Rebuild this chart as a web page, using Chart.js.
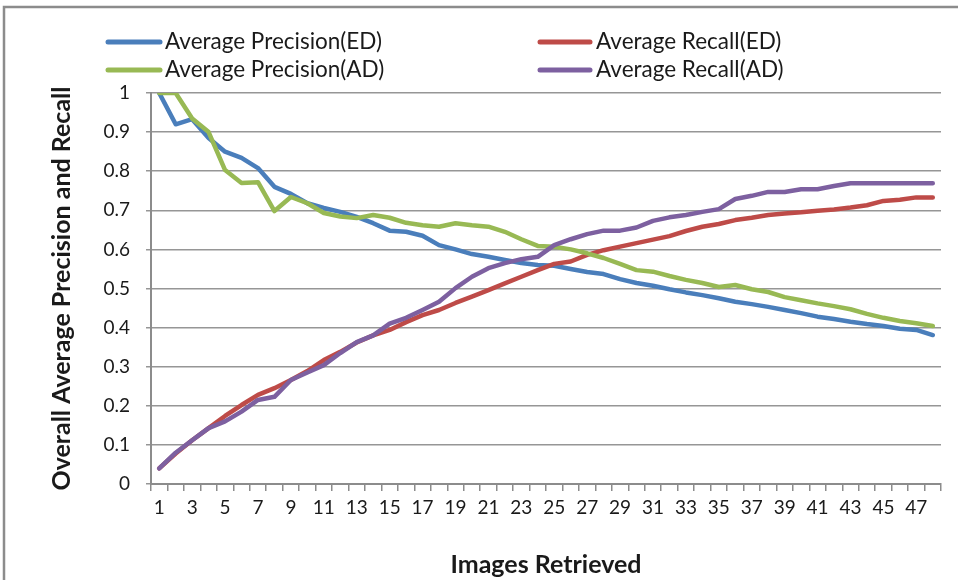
<!DOCTYPE html>
<html>
<head>
<meta charset="utf-8">
<script src="https://cdn.jsdelivr.net/npm/chart.js@4/dist/chart.umd.min.js"></script>
<style>
  html, body { margin: 0; padding: 0; background: #ffffff; }
  #wrap { width: 958px; height: 580px; position: relative; }
</style>
</head>
<body>
<div id="wrap"><canvas id="chart" width="958" height="580"></canvas></div>
<script>
// Images retrieved (x categories)
const categories = [1, 2, 3, 4, 5, 6, 7, 8, 9, 10, 11, 12, 13, 14, 15, 16, 17, 18, 19, 20, 21, 22, 23, 24,
  25, 26, 27, 28, 29, 30, 31, 32, 33, 34, 35, 36, 37, 38, 39, 40, 41, 42, 43, 44, 45, 46, 47, 48];

// Category labels printed under the axis
const xTickLabels = ['1', '3', '5', '7', '9', '11', '13', '15', '17', '19', '21', '23', '25', '27', '29',
  '31', '33', '35', '37', '39', '41', '43', '45', '47'];

const precisionED = [1.0, 0.92, 0.933, 0.885, 0.85, 0.834, 0.808, 0.76, 0.742, 0.718, 0.706, 0.696,
  0.683, 0.667, 0.648, 0.645, 0.635, 0.611, 0.600, 0.588, 0.581, 0.573, 0.565, 0.560,
  0.558, 0.550, 0.542, 0.537, 0.524, 0.514, 0.507, 0.498, 0.490, 0.483, 0.475, 0.466,
  0.460, 0.453, 0.445, 0.437, 0.428, 0.422, 0.415, 0.409, 0.404, 0.397, 0.394, 0.381];

const recallED = [0.04, 0.078, 0.112, 0.143, 0.174, 0.202, 0.228, 0.245, 0.266, 0.289, 0.317, 0.338,
  0.362, 0.380, 0.394, 0.414, 0.432, 0.445, 0.463, 0.479, 0.496, 0.513, 0.530, 0.547,
  0.563, 0.569, 0.586, 0.598, 0.607, 0.616, 0.625, 0.634, 0.647, 0.658, 0.665, 0.675,
  0.681, 0.688, 0.692, 0.695, 0.699, 0.702, 0.707, 0.713, 0.724, 0.727, 0.733, 0.733];

const precisionAD = [1.0, 1.0, 0.935, 0.900, 0.803, 0.770, 0.772, 0.698, 0.734, 0.718, 0.693, 0.684,
  0.680, 0.688, 0.681, 0.668, 0.662, 0.658, 0.667, 0.662, 0.658, 0.645, 0.626, 0.609,
  0.607, 0.600, 0.590, 0.578, 0.563, 0.547, 0.543, 0.532, 0.522, 0.514, 0.504, 0.509,
  0.498, 0.491, 0.478, 0.470, 0.462, 0.455, 0.447, 0.435, 0.425, 0.417, 0.411, 0.404];

const recallAD = [0.04, 0.080, 0.112, 0.143, 0.160, 0.185, 0.215, 0.223, 0.266, 0.285, 0.304, 0.335,
  0.363, 0.380, 0.410, 0.425, 0.445, 0.466, 0.501, 0.530, 0.552, 0.565, 0.575, 0.581,
  0.611, 0.626, 0.639, 0.648, 0.648, 0.656, 0.673, 0.682, 0.688, 0.696, 0.703, 0.729,
  0.737, 0.747, 0.747, 0.754, 0.754, 0.762, 0.769, 0.769, 0.769, 0.769, 0.769, 0.769];

const seriesNames = ['Average Precision(ED)', 'Average Recall(ED)', 'Average Precision(AD)', 'Average Recall(AD)'];
const seriesColors = ['#4A7EBB', '#BE4B48', '#98B954', '#7D60A0'];

const FONT = "Lato, 'Open Sans', 'Liberation Sans', sans-serif";

// Two-column legend drawn above the plot, plus the outer frame
const frameAndLegend = {
  id: 'frameAndLegend',
  beforeDraw(chart) {
    const ctx = chart.ctx;
    ctx.save();
    ctx.strokeStyle = '#8c8c8c';
    ctx.lineWidth = 2.5;
    ctx.beginPath();
    ctx.moveTo(4, 600);
    ctx.lineTo(4, 7);
    ctx.lineTo(980, 7);
    ctx.stroke();
    ctx.restore();
  },
  afterDraw(chart) {
    const ctx = chart.ctx;
    const cols = [{ x0: 108, x1: 160, tx: 165 }, { x0: 540, x1: 590, tx: 596 }];
    const rows = [42, 70];
    ctx.save();
    chart.data.datasets.forEach((ds, i) => {
      const c = cols[i % 2];
      const y = rows[Math.floor(i / 2)];
      ctx.strokeStyle = ds.borderColor;
      ctx.lineWidth = 5;
      ctx.lineCap = 'round';
      ctx.beginPath();
      ctx.moveTo(c.x0, y);
      ctx.lineTo(c.x1, y);
      ctx.stroke();
      ctx.fillStyle = '#1a1a1a';
      ctx.font = "22.5px " + FONT;
      ctx.textBaseline = 'middle';
      ctx.textAlign = 'left';
      ctx.fillText(ds.label, c.tx, y);
    });
    ctx.restore();
  }
};

const datasets = [precisionED, recallED, precisionAD, recallAD].map((vals, i) => ({
  label: seriesNames[i],
  data: vals,
  borderColor: seriesColors[i],
  backgroundColor: seriesColors[i],
  borderWidth: 4.5,
  pointRadius: 0,
  tension: 0,
  fill: false,
  order: 4 - i,
  borderCapStyle: 'round',
  borderJoinStyle: 'round'
}));

new Chart(document.getElementById('chart'), {
  type: 'line',
  data: { labels: categories.map(String), datasets },
  options: {
    responsive: false,
    animation: false,
    layout: { padding: { top: 93, right: 17, left: 0, bottom: 0 } },
    plugins: { legend: { display: false }, tooltip: { enabled: false } },
    scales: {
      x: {
        type: 'category',
        offset: true,
        afterFit(scale) { scale.height = 96; },
        grid: {
          display: true,
          offset: true,
          drawOnChartArea: false,
          drawTicks: true,
          tickLength: 7,
          color: '#8c8c8c',
          lineWidth: 1.5
        },
        border: { display: true, color: '#8c8c8c', width: 2 },
        ticks: {
          autoSkip: false,
          maxRotation: 0,
          minRotation: 0,
          padding: 5,
          color: '#1a1a1a',
          font: { family: FONT, size: 19 },
          callback(value) {
            const lab = this.getLabelForValue(value);
            return xTickLabels.includes(lab) ? lab : '';
          }
        },
        title: {
          display: true,
          text: 'Images Retrieved',
          color: '#1a1a1a',
          font: { family: FONT, size: 25, weight: 'bold' },
          padding: { top: 0, bottom: 0 }
        }
      },
      y: {
        min: 0,
        max: 1,
        afterFit(scale) { scale.width = 151; },
        grid: {
          color: '#969696',
          lineWidth: 1.5,
          drawTicks: true,
          tickLength: 5
        },
        border: { display: true, color: '#8c8c8c', width: 2 },
        ticks: {
          stepSize: 0.1,
          padding: 16,
          color: '#1a1a1a',
          font: { family: FONT, size: 19 },
          callback(value) { return String(+value.toFixed(1)); }
        },
        title: {
          display: true,
          text: 'Overall Average Precision and Recall',
          color: '#1a1a1a',
          font: { family: FONT, size: 25, weight: 'bold' },
          padding: { top: 47, bottom: 0 }
        }
      }
    }
  },
  plugins: [frameAndLegend]
});
</script>
</body>
</html>
